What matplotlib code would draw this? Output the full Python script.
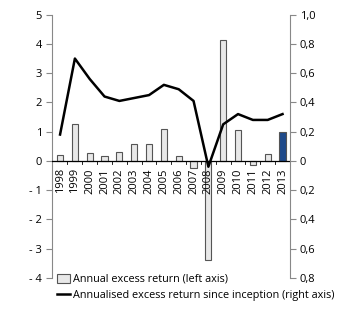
import matplotlib
matplotlib.use("Agg")
import matplotlib.pyplot as plt
from matplotlib.patches import Patch
from matplotlib.lines import Line2D
import numpy as np

plt.rcParams['font.family'] = ['Open Sans', 'DejaVu Sans']

years = ['1998', '1999', '2000', '2001', '2002', '2003', '2004', '2005',
         '2006', '2007', '2008', '2009', '2010', '2011', '2012', '2013']
annual = [0.19, 1.25, 0.27, 0.17, 0.31, 0.57, 0.56, 1.08,
          0.16, -0.23, -3.38, 4.15, 1.06, -0.13, 0.23, 0.99]
annualised = [0.18, 0.70, 0.56, 0.44, 0.41, 0.43, 0.45, 0.52,
              0.49, 0.41, -0.04, 0.25, 0.32, 0.28, 0.28, 0.32]
left_ticks = [5, 4, 3, 2, 1, 0, -1, -2, -3, -4]
left_labels = ['5', '4', '3', '2', '1', '0', '- 1', '- 2', '- 3', '- 4']
right_ticks = [1.0, 0.8, 0.6, 0.4, 0.2, 0.0, -0.2, -0.4, -0.6, -0.8]
right_labels = ['1,0', '0,8', '0,6', '0,4', '0,2', '0', '0,2', '0,4', '0,6', '0,8']

gray = '#e8e8e8'
edge = '#555555'
blue = '#1f4a8a'
spine_c = '#888888'

fig = plt.figure(figsize=(3.46, 3.23), dpi=100)
ax = fig.add_axes([0.150, 0.140, 0.688, 0.8145])
ax2 = ax.twinx()

x = np.arange(len(years))
colors = [gray] * (len(years) - 1) + [blue]
ax.bar(x, annual, width=0.42, color=colors, edgecolor=edge, linewidth=0.8, zorder=2)
ax.axhline(0, color='black', linewidth=0.9, zorder=3)

ax.set_ylim(-4, 5)
ax.set_xlim(-0.55, 15.5)
ax.set_yticks(left_ticks)
ax.set_yticklabels(left_labels, fontsize=8)

ax2.plot(x, annualised, color='black', linewidth=1.8, zorder=4)
ax2.set_ylim(-0.8, 1.0)
ax2.set_yticks(right_ticks)
ax2.set_yticklabels(right_labels, fontsize=8)

for a in (ax, ax2):
    a.spines['top'].set_visible(False)
    a.spines['bottom'].set_visible(False)
    a.spines['left'].set_color(spine_c)
    a.spines['right'].set_color(spine_c)
    a.tick_params(axis='y', colors='black', length=4, width=0.8, color=spine_c, direction='out', pad=3)
ax.spines['right'].set_visible(False)
ax2.spines['left'].set_visible(False)

ax.set_xticks([])
for xi, lab in zip(x, years):
    ax.text(xi, -0.25, lab, rotation=90, ha='center', va='top', fontsize=8)
# small ticks at category boundaries on the zero line
for b in np.arange(0.5, 15.5, 1.0):
    ax.plot([b, b], [0, -0.1], color='black', linewidth=0.6, zorder=3)

handles = [Patch(facecolor=gray, edgecolor=edge, linewidth=0.8, label='Annual excess return (left axis)'),
           Line2D([0], [0], color='black', linewidth=1.8, label='Annualised excess return since inception (right axis)')]
fig.legend(handles=handles, loc='upper left', bbox_to_anchor=(0.165, 0.153),
           bbox_transform=fig.transFigure, frameon=False, fontsize=7.8,
           handlelength=1.2, handleheight=0.9, handletextpad=0.3, labelspacing=0.5,
           borderaxespad=0, borderpad=0)

fig.savefig('out.png', dpi=100)
